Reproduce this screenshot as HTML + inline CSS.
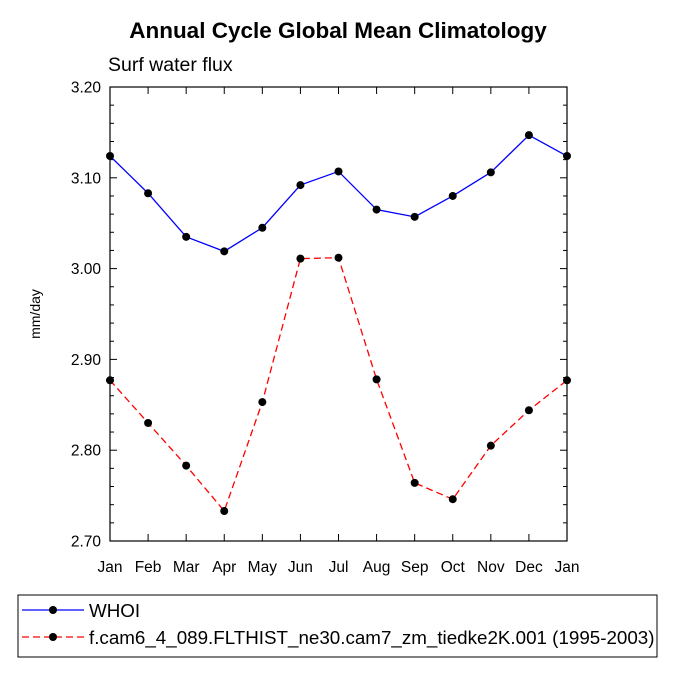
<!DOCTYPE html>
<html><head><meta charset="utf-8"><style>
body{margin:0;background:#fff;}
svg{display:block;font-family:"Liberation Sans",Helvetica,sans-serif;}
</style></head><body>
<svg id="chart" width="675" height="675" viewBox="0 0 675 675">
<text x="338" y="38" text-anchor="middle" font-size="22.5" font-weight="bold">Annual Cycle Global Mean Climatology</text>
<text x="108" y="71" font-size="19.5">Surf water flux</text>
<text transform="translate(40,314) rotate(-90)" text-anchor="middle" font-size="14">mm/day</text>
<g id="axes"></g>
<g id="series"></g>
<rect x="18" y="595" width="639" height="62" fill="none" stroke="#000" stroke-width="1"/>
<g>
<line x1="22" y1="610" x2="84" y2="610" stroke="#0000ff" stroke-width="1.3"/>
<circle cx="53" cy="610" r="4" fill="#000"/>
<text x="89" y="617" font-size="18.8">WHOI</text>
</g>
<g>
<line x1="22" y1="637" x2="84" y2="637" stroke="#ff0000" stroke-width="1.3" stroke-dasharray="7,4"/>
<circle cx="53" cy="637" r="4" fill="#000"/>
<text x="89" y="644" font-size="18.8">f.cam6_4_089.FLTHIST_ne30.cam7_zm_tiedke2K.001 (1995-2003)</text>
</g>
</svg>
<script>
const months=["Jan","Feb","Mar","Apr","May","Jun","Jul","Aug","Sep","Oct","Nov","Dec","Jan"];
const yTicks=[2.70,2.80,2.90,3.00,3.10,3.20];
const yTickLabels=["2.70","2.80","2.90","3.00","3.10","3.20"];
const whoi=[3.124,3.083,3.035,3.019,3.045,3.092,3.107,3.065,3.057,3.080,3.106,3.147,3.124];
const model=[2.877,2.830,2.783,2.733,2.853,3.011,3.012,2.878,2.764,2.746,2.805,2.844,2.877];
const NS="http://www.w3.org/2000/svg";
const L=110,R=567,T=87,B=541,yMin=2.70,yMax=3.20;
const xs=i=>L+(R-L)*i/(months.length-1);
const ys=v=>B-(v-yMin)/(yMax-yMin)*(B-T);
function mk(tag,attrs,parent){const e=document.createElementNS(NS,tag);for(const k in attrs)e.setAttribute(k,attrs[k]);parent.appendChild(e);return e;}
const ax=document.getElementById('axes');
const frame=mk('rect',{x:L,y:T,width:R-L,height:B-T,fill:'none',stroke:'#000','stroke-width':1.2},ax);


months.forEach((m,i)=>{
  const x=xs(i);
  mk('line',{x1:x,y1:B,x2:x,y2:B-7,stroke:'#000'},ax);
  mk('line',{x1:x,y1:T,x2:x,y2:T+7,stroke:'#000'},ax);
  const t=mk('text',{x:x,y:B+31,'text-anchor':'middle','font-size':15.5},ax);
  t.textContent=m;
  
  
});
for(let v=yMin;v<=yMax+1e-9;v+=0.02){
  const y=ys(v);const major=Math.abs(Math.round(v*10)-v*10)<1e-6;const len=major?7:4;
  mk('line',{x1:L,y1:y,x2:L+len,y2:y,stroke:'#000'},ax);
  mk('line',{x1:R,y1:y,x2:R-len,y2:y,stroke:'#000'},ax);
}
yTicks.forEach((v,i)=>{
  const t=mk('text',{x:L-9,y:ys(v)+5.5,'text-anchor':'end','font-size':15.5},ax);
  t.textContent=yTickLabels[i];
  
  
});
const sg=document.getElementById('series');
function draw(data,color,dash,name){
  const g=mk('g',{},sg);
  
  
  const p=mk('polyline',{points:data.map((v,i)=>xs(i)+','+ys(v)).join(' '),fill:'none',stroke:color,'stroke-width':1.3},g);
  if(dash)p.setAttribute('stroke-dasharray',dash);
  data.forEach((v,i)=>{
    const c=mk('circle',{cx:xs(i),cy:ys(v),r:4,fill:'#000'},g);
    
    
  });
}
draw(whoi,'#0000ff',null,'whoi-series');
draw(model,'#ff0000','7,4','model-series');
</script>
</body></html>
